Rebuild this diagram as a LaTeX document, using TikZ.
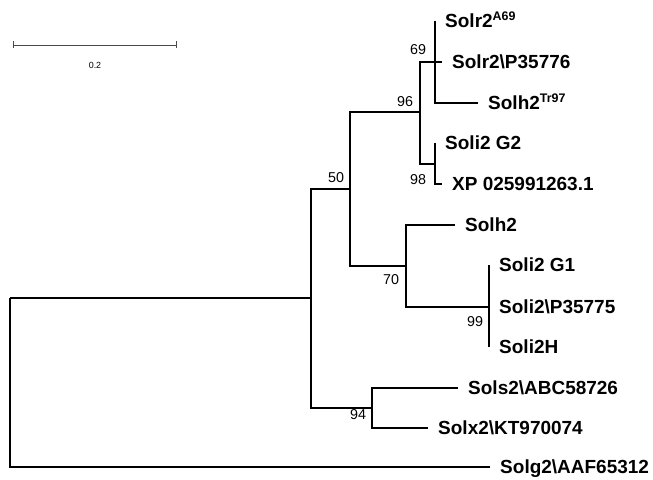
\documentclass[tikz,border=0pt]{standalone}
\usepackage{fontspec}
\setmainfont{Liberation Sans}
\usepackage{tikz}
\usetikzlibrary{positioning}
\definecolor{BarGray}{HTML}{4A4A4A}
\newcommand{\supx}[1]{\raisebox{0.4em}{\fontsize{10.6}{11}\selectfont #1}}

\begin{document}
\begin{tikzpicture}[x=0.03cm,y=-0.03cm,
    br/.style={line width=1.8pt,black},
    bar/.style={line width=0.8pt,BarGray},
    leaf/.style={anchor=west,inner xsep=0.3cm,inner ysep=0pt,
                 text height=11.6pt,text depth=0pt,
                 font=\bfseries\fontsize{16.2}{19}\selectfont},
    boot/.style={inner sep=0pt,font=\fontsize{12.2}{14}\selectfont}]
  \useasboundingbox (0,0) rectangle (653,479);
  % scale bar
  \coordinate (s0) at (13,45);
  \coordinate (s1) at (176,45);
  \draw[bar] (s0) -- (s1);
  \draw[bar] (s0) +(0,-3.5) -- +(0,3.5);
  \draw[bar] (s1) +(0,-3.5) -- +(0,3.5);
  \node[inner sep=0pt,font=\fontsize{7.6}{9}\selectfont] (slab) at (95,65.5) {0.2};
  % internal nodes
  \coordinate (R) at (10,298);
  \coordinate (A) at (311,298);
  \coordinate (B) at (350,189);
  \coordinate (C) at (420,112);
  \coordinate (D) at (435,62);
  \coordinate (E) at (435,164);
  \coordinate (F) at (406,266);
  \coordinate (G) at (489,307);
  \coordinate (H) at (372,408);
  % leaves
  \node[leaf] (t1)  at (435,21)  {Solr2\supx{A69}};
  \node[leaf] (t2)  at (442,62)  {Solr2\textbackslash P35776};
  \node[leaf] (t3)  at (478,103) {Solh2\supx{Tr97}};
  \node[leaf] (t4)  at (435,143) {Soli2 G2};
  \node[leaf] (t5)  at (442,184) {XP 025991263.1};
  \node[leaf] (t6)  at (455,225) {Solh2};
  \node[leaf] (t7)  at (489,265) {Soli2 G1};
  \node[leaf] (t8)  at (489,307) {Soli2\textbackslash P35775};
  \node[leaf] (t9)  at (489,347) {Soli2H};
  \node[leaf] (t10) at (458,388) {Sols2\textbackslash ABC58726};
  \node[leaf] (t11) at (428,428) {Solx2\textbackslash KT970074};
  \node[leaf] (t12) at (490,467) {Solg2\textbackslash AAF65312};
  % branches
  \draw[br] (R) |- (A);  \draw[br] (R) |- (t12.west);
  \draw[br] (A) |- (B);  \draw[br] (A) |- (H);
  \draw[br] (B) |- (C);  \draw[br] (B) |- (F);
  \draw[br] (C) |- (D);  \draw[br] (C) |- (E);
  \draw[br] (D) |- (t1.west); \draw[br] (D) -- (t2.west); \draw[br] (D) |- (t3.west);
  \draw[br] (E) |- (t4.west); \draw[br] (E) |- (t5.west);
  \draw[br] (F) |- (t6.west); \draw[br] (F) |- (G);
  \draw[br] (G) |- (t7.west); \draw[br] (G) -- (t8.west); \draw[br] (G) |- (t9.west);
  \draw[br] (H) |- (t10.west); \draw[br] (H) |- (t11.west);
  % bootstrap values
  \node[boot] (b69) at (418,50)  {69};
  \node[boot] (b96) at (405,102) {96};
  \node[boot] (b98) at (418,180) {98};
  \node[boot] (b50) at (336,178) {50};
  \node[boot] (b70) at (391,280) {70};
  \node[boot] (b99) at (475,322) {99};
  \node[boot] (b94) at (358,415) {94};
\end{tikzpicture}
\end{document}
